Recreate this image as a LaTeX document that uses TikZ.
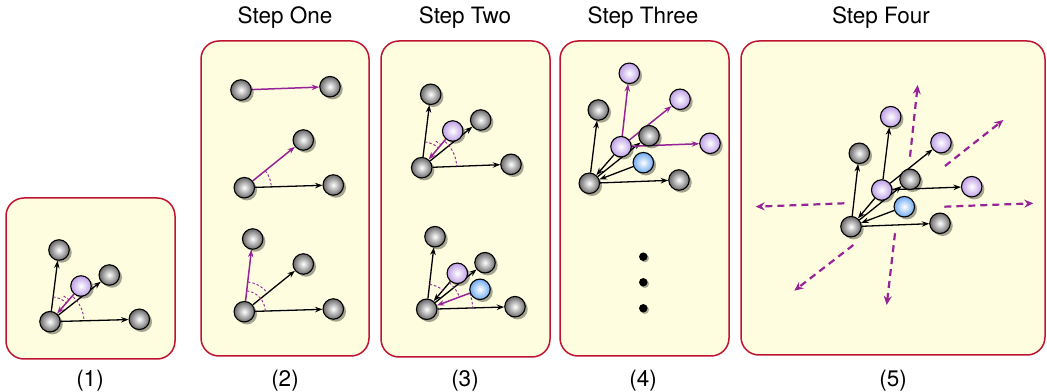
\documentclass[tikz,border=0pt]{standalone}
\usepackage{fontspec}
\setmainfont{TeX Gyre Heros}
\usetikzlibrary{arrows.meta,shadows}
\definecolor{panelfill}{RGB}{254,253,224}
\definecolor{panelline}{RGB}{190,20,50}
\definecolor{vio}{RGB}{150,36,150}
\definecolor{ballgray}{RGB}{105,105,105}
\definecolor{balllav}{RGB}{190,158,230}
\definecolor{ballblue}{RGB}{110,170,240}
\pgfdeclarelayer{bg}\pgfdeclarelayer{edges}\pgfsetlayers{bg,edges,main}
\tikzset{
 ball/.style={circle, draw=black, line width=1.1pt, minimum size=20.5pt, inner sep=0pt, inner color=white,
   drop shadow={shadow xshift=2.5pt, shadow yshift=-2.5pt, opacity=0.35, fill=black}},
 gball/.style={ball, outer color=ballgray},
 lball/.style={ball, outer color=balllav},
 bball/.style={ball, outer color=ballblue},
 panel/.style={draw=panelline, fill=panelfill, line width=1.5pt, rounded corners=18pt},
 blk/.style={draw=black, line width=1.3pt, -{Stealth[length=7.5pt,width=5.5pt]}},
 vlt/.style={draw=vio, line width=1.5pt, -{Stealth[length=7.5pt,width=5.5pt]}},
 ang/.style={draw=vio, line width=0.9pt, dash pattern=on 2.5pt off 2pt},
 spread/.style={draw=vio, line width=2.2pt, dash pattern=on 7pt off 5pt, -{Stealth[length=9pt,width=8pt]}},
 lbl/.style={font=\fontsize{22.5}{26}\selectfont, anchor=base, inner sep=0pt},
 dotn/.style={circle, fill=black, minimum size=8.5pt, inner sep=0pt,
   drop shadow={shadow xshift=1.5pt, shadow yshift=-1.5pt, opacity=0.3, fill=black}}
}
\newcommand{\angarc}[4]{\draw[ang] ([shift={(#3:#2)}]#1.center) arc[start angle=#3, end angle=#4, radius=#2];}
\begin{document}
\begin{tikzpicture}[x=1pt,y=1pt]
\useasboundingbox (0,0) rectangle (1047,391);
% panels
\begin{pgfonlayer}{bg}
\path[panel] (6,32) rectangle (175,193);
\path[panel] (201,35) rectangle (369,350);
\path[panel] (381,34) rectangle (550,350);
\path[panel] (560,35) rectangle (729,350);
\path[panel] (741,36) rectangle (1045,350);
\end{pgfonlayer}
% labels
\node[lbl] (t2) at (285,367.7) {Step One};
\node[lbl] (t3) at (465,367.7) {Step Two};
\node[lbl] (t4) at (643,367.7) {Step Three};
\node[lbl] (t5) at (881,367.7) {Step Four};
\node[lbl] (n1) at (90,4.3) {(1)};
\node[lbl] (n2) at (285,4.3) {(2)};
\node[lbl] (n3) at (465,4.3) {(3)};
\node[lbl] (n4) at (643,4.3) {(4)};
\node[lbl] (n5) at (893,4.3) {(5)};
% panel 1
\node[gball] (p1a) at (50,69.3) {};
\node[gball] (p1b) at (59,141) {};
\node[gball] (p1c) at (109.3,116) {};
\node[gball] (p1d) at (139.3,71.7) {};
\node[lball] (p1p) at (81,105) {};
% panel 2
\node[gball] (p2l) at (241,301) {};
\node[gball] (p2r) at (330,304.3) {};
\node[gball] (p2ma) at (244.3,203.3) {};
\node[gball] (p2mt) at (303.3,251) {};
\node[gball] (p2mr) at (333.3,206) {};
\node[gball] (p2ba) at (244.3,79.3) {};
\node[gball] (p2bt) at (252.7,152) {};
\node[gball] (p2bm) at (303.3,127) {};
\node[gball] (p2br) at (333.3,82) {};
% panel 3 top
\node[gball] (p3a) at (421.7,223.3) {};
\node[gball] (p3t) at (430.7,296.7) {};
\node[gball] (p3m) at (480.7,271) {};
\node[gball] (p3r) at (511,226.7) {};
\node[lball] (p3p) at (452.7,260) {};
% panel 3 bottom
\node[gball] (q3a) at (426.7,81.7) {};
\node[gball] (q3t) at (435,154.3) {};
\node[gball] (q3m) at (485,128.3) {};
\node[gball] (q3r) at (515,84.3) {};
\node[lball] (q3p) at (457.3,117.7) {};
\node[bball] (q3b) at (480,101.7) {};
% panel 4
\node[gball] (p4a) at (589.3,207.7) {};
\node[gball] (p4t) at (598.3,281) {};
\node[gball] (p4m) at (649,255.3) {};
\node[gball] (p4r) at (679,211) {};
\node[lball] (p4p) at (621,244.3) {};
\node[bball] (p4b) at (643.3,228.3) {};
\node[lball] (p4pt) at (629.3,317.7) {};
\node[lball] (p4pu) at (680,291.7) {};
\node[lball] (p4pr) at (710,247.7) {};
\node[dotn] (d1) at (643.3,134.3) {};
\node[dotn] (d2) at (643.3,108.7) {};
\node[dotn] (d3) at (643.3,82.7) {};
% panel 5
\node[gball] (p5a) at (851,164.3) {};
\node[gball] (p5t) at (859.3,237.7) {};
\node[gball] (p5m) at (910,211.7) {};
\node[gball] (p5r) at (940,167.7) {};
\node[lball] (p5p) at (881.7,201) {};
\node[bball] (p5b) at (904.3,184.3) {};
\node[lball] (p5pt) at (890.7,274.3) {};
\node[lball] (p5pu) at (941,248.3) {};
\node[lball] (p5pr) at (971.7,204.3) {};
\coordinate (s1a) at (910,234.3);  \coordinate (s1b) at (917.7,306);
\coordinate (s2a) at (945,225);    \coordinate (s2b) at (1003.3,271);
\coordinate (s3a) at (944.3,184.3); \coordinate (s3b) at (1033.3,187.7);
\coordinate (s4a) at (844.3,187.7); \coordinate (s4b) at (755.7,184.3);
\coordinate (s5a) at (853.3,146);  \coordinate (s5b) at (794.3,100.3);
\coordinate (s6a) at (895,157.7);  \coordinate (s6b) at (886.7,86);
\begin{pgfonlayer}{edges}
% panel 1
\draw[blk] (p1a) -- (p1b);
\draw[blk] (p1a) -- (p1c);
\draw[blk] (p1a) -- (p1d);
\draw[vlt] (p1p) -- (p1a);
\angarc{p1a}{25}{83}{49}
\angarc{p1a}{29}{62}{46}
\angarc{p1a}{34}{47}{1.5}
% panel 2
\draw[vlt] (p2l) -- (p2r);
\draw[vlt] (p2ma) -- (p2mt);
\draw[blk] (p2ma) -- (p2mr);
\angarc{p2ma}{27}{39}{2}
\draw[vlt] (p2ba) -- (p2bt);
\draw[blk] (p2ba) -- (p2bm);
\draw[blk] (p2ba) -- (p2br);
\angarc{p2ba}{30}{83}{39}
\angarc{p2ba}{21}{83}{2}
% panel 3 top
\draw[blk] (p3a) -- (p3t);
\draw[blk] (p3a) -- (p3m);
\draw[blk] (p3a) -- (p3r);
\draw[vlt] (p3p) -- (p3a);
\angarc{p3a}{26}{83}{50}
\angarc{p3a}{30}{62}{46}
\angarc{p3a}{35}{48}{2}
% panel 3 bottom
\draw[blk] (q3a) -- (q3t);
\draw[blk] (q3a) -- (q3m);
\draw[blk] (q3a) -- (q3r);
\draw[blk] (q3p) -- (q3a);
\draw[vlt] (q3b) -- (q3a);
\angarc{q3a}{25}{83.5}{49.6}
\angarc{q3a}{35}{49.6}{20.6}
\angarc{q3a}{46}{20.6}{1.7}
% panel 4
\draw[blk] (p4a) -- (p4t);
\draw[blk] (p4a) -- (p4m);
\draw[blk] (p4a) -- (p4r);
\draw[blk] (p4p) -- (p4a);
\draw[blk] (p4b) -- (p4a);
\draw[vlt] (p4p) -- (p4pt);
\draw[vlt] (p4p) -- (p4pu);
\draw[vlt] (p4p) -- (p4pr);
% panel 5
\draw[blk] (p5a) -- (p5t);
\draw[blk] (p5a) -- (p5m);
\draw[blk] (p5a) -- (p5r);
\draw[blk] (p5p) -- (p5a);
\draw[blk] (p5b) -- (p5a);
\draw[blk] (p5p) -- (p5pt);
\draw[blk] (p5p) -- (p5pu);
\draw[blk] (p5p) -- (p5pr);
\draw[spread] (s1a) -- (s1b);
\draw[spread] (s2a) -- (s2b);
\draw[spread] (s3a) -- (s3b);
\draw[spread] (s4a) -- (s4b);
\draw[spread] (s5a) -- (s5b);
\draw[spread] (s6a) -- (s6b);
\end{pgfonlayer}
\end{tikzpicture}
\end{document}
